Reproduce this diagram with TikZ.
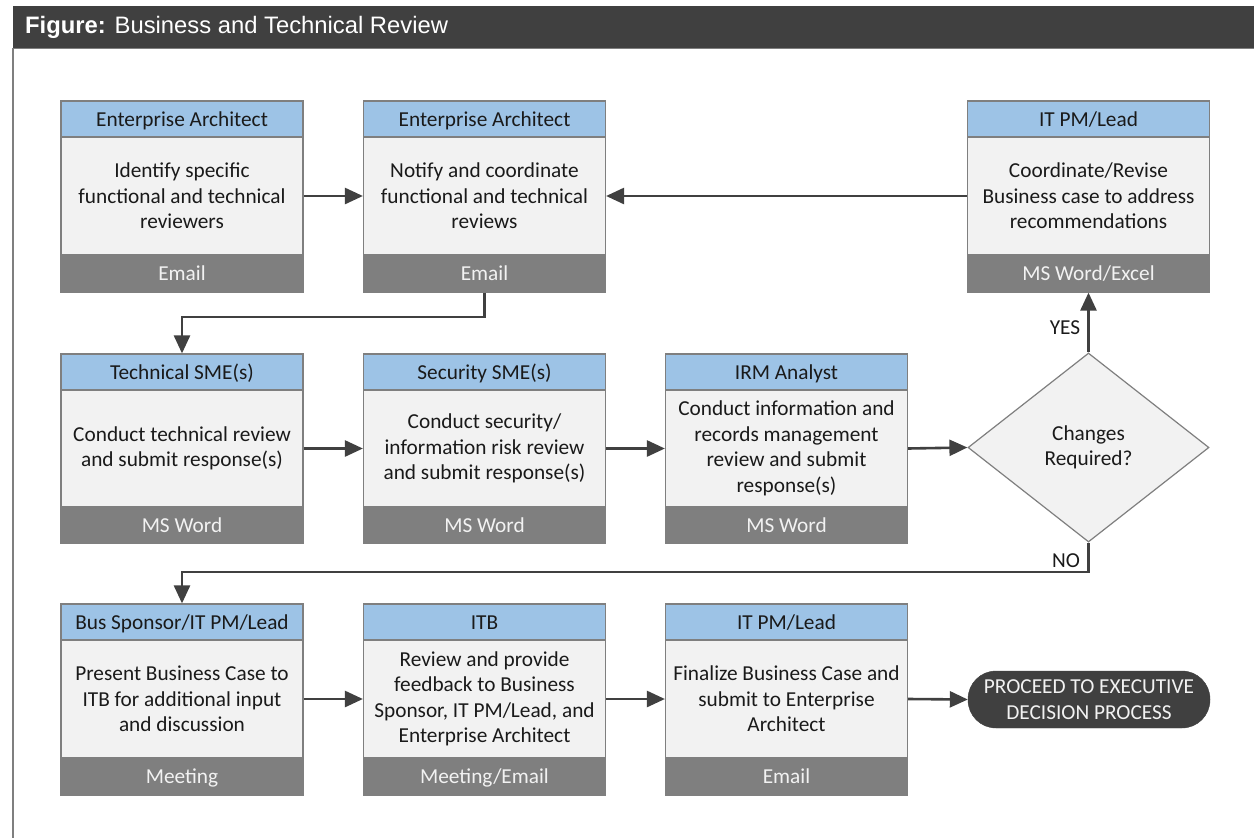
\documentclass[tikz,border=0pt]{standalone}
\usepackage{fontspec}
\setmainfont{Carlito}
\newfontfamily\titlefont{Liberation Sans}
\usetikzlibrary{arrows.meta,shapes.geometric}
\definecolor{hdrblue}{HTML}{9DC3E6}
\definecolor{bodygray}{HTML}{F2F2F2}
\definecolor{footgray}{HTML}{7F7F7F}
\definecolor{edgegray}{HTML}{7F7F7F}
\definecolor{darkbar}{HTML}{404040}
\definecolor{inktext}{HTML}{1A1A1A}

\tikzset{
  boxfont/.style={font=\fontsize{21.3}{25.5}\selectfont},
  hdr/.style={boxfont, draw=edgegray, line width=1.2pt, fill=hdrblue,
    minimum width=242pt, minimum height=36pt, inner sep=0pt, text=inktext,
    text height=16pt, text depth=2pt},
  bdy/.style={boxfont, draw=edgegray, line width=1.2pt, fill=bodygray,
    minimum width=242pt, minimum height=118pt, inner sep=0pt, align=center, text=inktext},
  ftr/.style={boxfont, draw=edgegray, line width=1.2pt, fill=footgray,
    minimum width=242pt, minimum height=37pt, inner sep=0pt, text=bodygray,
    text height=16pt, text depth=2pt},
  decision/.style={boxfont, diamond, draw=edgegray, line width=1.2pt, fill=bodygray,
    minimum width=241pt, minimum height=189pt, inner sep=0pt, align=center, text=inktext},
  terminal/.style={boxfont, draw=darkbar, fill=darkbar, rounded corners=28pt,
    minimum width=242pt, minimum height=57pt, inner sep=0pt, align=center, text=bodygray},
  flow/.style={draw=darkbar, line width=2.6pt,
    -{Triangle[length=18pt,width=16pt]}},
  branch/.style={boxfont, text=inktext, inner sep=0pt},
}

\begin{document}
\begin{tikzpicture}[x=1pt,y=-1pt]
\useasboundingbox (0,0) rectangle (1254,838);
\fill[white] (0,0) rectangle (1254,838);

% title bar and frame
\fill[darkbar] (13,6) rectangle (1254,48);
\draw[edgegray, line width=1pt] (13,48) -- (1254,48);
\draw[edgegray, line width=1.2pt] (13,48) -- (13,838);
\node[anchor=west, text=white, inner sep=0pt, font=\titlefont\fontsize{23.8}{26}\selectfont]
  (title) at (25,27) {\textbf{Figure:} Business and Technical Review};

% ---- row 1 ----
\node[bdy] (b1) at (182,196) {Identify specific\\functional and technical\\reviewers};
\node[hdr] (h1) at (182,119) {Enterprise Architect};
\node[ftr] (f1) at (182,273.5) {Email};

\node[bdy] (b2) at (484.5,196) {Notify and coordinate\\functional and technical\\reviews};
\node[hdr] (h2) at (484.5,119) {Enterprise Architect};
\node[ftr] (f2) at (484.5,273.5) {Email};

\node[bdy] (b4) at (1088.5,196) {Coordinate/Revise\\Business case to address\\recommendations};
\node[hdr] (h4) at (1088.5,119) {IT PM/Lead};
\node[ftr] (f4) at (1088.5,273.5) {MS Word/Excel};

% ---- row 2 ----
\node[bdy] (b5) at (182,448.5) {Conduct technical review\\and submit response(s)};
\node[hdr] (h5) at (182,372) {Technical SME(s)};
\node[ftr] (f5) at (182,525) {MS Word};

\node[bdy] (b6) at (484.5,448.5) {Conduct security/\\information risk review\\and submit response(s)};
\node[hdr] (h6) at (484.5,372) {Security SME(s)};
\node[ftr] (f6) at (484.5,525) {MS Word};

\node[bdy] (b7) at (786.5,448.5) {Conduct information and\\records management\\review and submit\\response(s)};
\node[hdr] (h7) at (786.5,372) {IRM Analyst};
\node[ftr] (f7) at (786.5,525) {MS Word};

\node[decision] (dec) at (1088.5,447.5) {Changes\\Required?};

% ---- row 3 ----
\node[bdy] (b8) at (182,699) {Present Business Case to\\ITB for additional input\\and discussion};
\node[hdr] (h8) at (182,622) {Bus Sponsor/IT PM/Lead};
\node[ftr] (f8) at (182,776.5) {Meeting};

\node[bdy] (b9) at (484.5,699) {Review and provide\\feedback to Business\\Sponsor, IT PM/Lead, and\\Enterprise Architect};
\node[hdr] (h9) at (484.5,622) {ITB};
\node[ftr] (f9) at (484.5,776.5) {Meeting/Email};

\node[bdy] (b10) at (786.5,699) {Finalize Business Case and\\submit to Enterprise\\Architect};
\node[hdr] (h10) at (786.5,622) {IT PM/Lead};
\node[ftr] (f10) at (786.5,776.5) {Email};

\node[terminal] (end) at (1089,699.5) {PROCEED TO EXECUTIVE\\DECISION PROCESS};

% ---- connectors ----
\draw[flow] (b1.east) -- (b2.west);
\draw[flow] (b4.west) -- (b2.east);
\draw[flow] (f2.south) -- (f2.south |- 0,317) -- (h5.north |- 0,317) -- (h5.north);

\draw[flow] (b5.east) -- (b6.west);
\draw[flow] (b6.east) -- (b7.west);
\draw[flow] (b7.east) -- (dec.west);
\draw[flow] (dec.north) -- (f4.south);
\draw[flow] (dec.south) -- (dec.south |- 0,572) -- (h8.north |- 0,572) -- (h8.north);

\draw[flow] (b8.east) -- (b9.west);
\draw[flow] (b9.east) -- (b10.west);
\draw[flow] (b10.east) -- (end.west);

% branch labels
\node[branch] (yes) at (1065,328) {YES};
\node[branch] (no) at (1066,561) {NO};
\end{tikzpicture}
\end{document}
